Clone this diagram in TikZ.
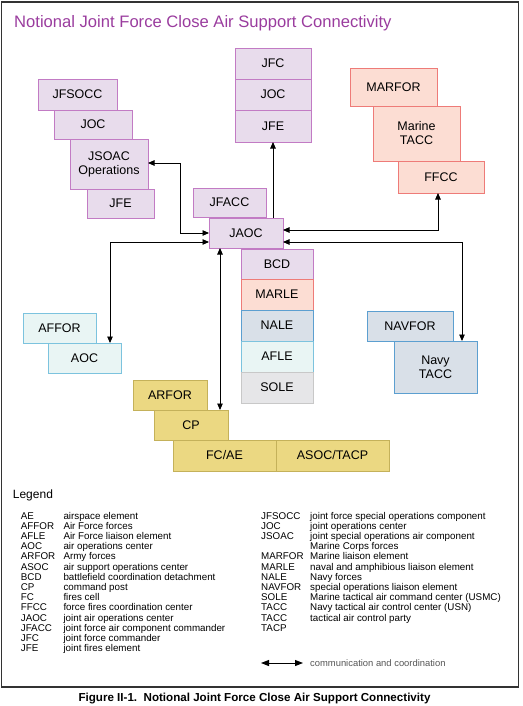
\documentclass[tikz,border=0pt]{standalone}
\usepackage{fontspec}
\setmainfont{Liberation Sans}
\usetikzlibrary{arrows.meta,calc}
\definecolor{pfill}{HTML}{E8DCEC}\definecolor{pline}{HTML}{C27BC4}
\definecolor{sfill}{HTML}{FCDDD3}\definecolor{sline}{HTML}{EE7B78}
\definecolor{cfill}{HTML}{E9F5F4}\definecolor{cline}{HTML}{7CC3DE}
\definecolor{bfill}{HTML}{D9E0E8}\definecolor{bline}{HTML}{5C9FD0}
\definecolor{gfill}{HTML}{E6E6E8}\definecolor{gline}{HTML}{C8C8C8}
\definecolor{yfill}{HTML}{EBD882}\definecolor{yline}{HTML}{C4B15A}
\definecolor{titlecol}{HTML}{9A3C9E}
\definecolor{framecol}{HTML}{333333}
\definecolor{notecol}{HTML}{555555}
\newcommand\bx[7]{\node[box,#6, minimum width={(#4)-(#2)}, minimum height={(#5)-(#3)}] (#1) at ({((#2)+(#4))/2},{((#3)+(#5))/2}) {#7};}
\tikzset{
  box/.style={rectangle, draw, line width=0.8pt, inner sep=0pt, outer sep=0pt, align=center, font=\fontsize{12.5}{14}\selectfont},
  purp/.style={fill=pfill, draw=pline},
  salm/.style={fill=sfill, draw=sline},
  cyan/.style={fill=cfill, draw=cline},
  blgr/.style={fill=bfill, draw=bline},
  gray/.style={fill=gfill, draw=gline},
  yell/.style={fill=yfill, draw=yline},
  conn/.style={line width=0.9pt, black, {Triangle[length=6.5pt,width=5.5pt]}-{Triangle[length=6.5pt,width=5.5pt]}},
  oneway/.style={line width=0.9pt, black, -{Triangle[length=6.5pt,width=5.5pt]}},
  legtxt/.style={anchor=base west, inner sep=0pt, font=\fontsize{9.8}{10}\selectfont}
}
\begin{document}
\begin{tikzpicture}[x=1pt,y=-1pt]
\useasboundingbox (0,0) rectangle (522,706);
\draw[framecol, line width=1.2pt] (1.5,2) rectangle (518.5,687);
\node[anchor=base west, inner sep=0pt, text=titlecol, font=\fontsize{16.6}{18}\selectfont] (title) at (14,28) {Notional Joint Force Close Air Support Connectivity};
% left stack
\bx{JFSOCC}{38}{79}{117}{110}{purp}{JFSOCC}
\bx{JOCl}{54}{110}{132}{139}{purp}{JOC}
\bx{JSOAC}{70}{139}{148}{189}{purp}{JSOAC\\Operations}
\bx{JFEl}{87}{189}{154}{218}{purp}{JFE}
% middle top stack
\bx{JFC}{235}{48}{311}{79}{purp}{JFC}
\bx{JOCm}{235}{79}{311}{110}{purp}{JOC}
\bx{JFEm}{235}{110}{311}{142}{purp}{JFE}
% marine stack
\bx{MARFOR}{350}{68}{437}{106}{salm}{MARFOR}
\bx{MTACC}{373}{106}{460}{161}{salm}{Marine\\TACC}
\bx{FFCC}{398}{161}{484}{193}{salm}{FFCC}
% center
\bx{JFACC}{193}{188}{266}{217}{purp}{JFACC}
\bx{JAOC}{209}{218}{283}{248}{purp}{JAOC}
\bx{BCD}{241}{249}{313}{279}{purp}{BCD}
\bx{MARLE}{241}{279}{313}{310}{salm}{MARLE}
\bx{NALE}{241}{310}{313}{341}{blgr}{NALE}
\bx{AFLE}{241}{341}{313}{372}{cyan}{AFLE}
\bx{SOLE}{241}{372}{313}{403}{gray}{SOLE}
% air force
\bx{AFFOR}{23}{313}{96}{343}{cyan}{AFFOR}
\bx{AOC}{48}{343}{121}{373}{cyan}{AOC}
% army
\bx{ARFOR}{133}{380}{207}{410}{yell}{ARFOR}
\bx{CP}{154}{410}{228}{440}{yell}{CP}
\bx{FCAE}{173}{440}{276}{471}{yell}{FC/AE}
\bx{ASOC}{276}{440}{389}{471}{yell}{ASOC/TACP}
% navy
\bx{NAVFOR}{367}{311}{453}{341}{blgr}{NAVFOR}
\bx{NTACC}{394}{341}{477}{393}{blgr}{Navy\\TACC}
% connectors
\draw[conn] ([yshift=1pt]JSOAC.east) -| ([xshift=-29pt]JAOC.west) -- (JAOC.west);
\draw[conn] ([yshift=-9pt]JAOC.west) -| ([xshift=25.5pt]AOC.north);
\draw[oneway] (JFEm.south |- JAOC.north) -- (JFEm.south);
\draw[conn] ([yshift=3pt]JAOC.east) -| ([xshift=-3pt]FFCC.south);
\draw[conn] ([yshift=-9pt]JAOC.east) -| ([xshift=26.5pt]NTACC.north);
\draw[conn] ([xshift=-26pt]JAOC.south) -- ([xshift=29pt]CP.north);
% legend
\node[anchor=base west, inner sep=0pt, font=\fontsize{12}{14}\selectfont] (legend) at (12.7,498) {Legend};
\foreach \a/\d [count=\i from 0] in {AE/airspace element, AFFOR/Air Force forces, AFLE/Air Force liaison element, AOC/air operations center, ARFOR/Army forces, ASOC/air support operations center, BCD/battlefield coordination detachment, CP/command post, FC/fires cell, FFCC/force fires coordination center, JAOC/joint air operations center, JFACC/joint force air component commander, JFC/joint force commander, JFE/joint fires element}{
  \node[legtxt] (la\i) at (20.7,{519.1+10.2*\i}) {\a};
  \node[legtxt] (ld\i) at (63.3,{519.1+10.2*\i}) {\d};
}
\foreach \a/\d [count=\i from 0] in {JFSOCC/joint force special operations component, JOC/joint operations center, JSOAC/joint special operations air component, {}/Marine Corps forces, MARFOR/Marine liaison element, MARLE/naval and amphibious liaison element, NALE/Navy forces, NAVFOR/special operations liaison element, SOLE/Marine tactical air command center (USMC), TACC/Navy tactical air control center (USN), TACC/tactical air control party, TACP/{}}{
  \node[legtxt] (ra\i) at (261,{519.1+10.2*\i}) {\a};
  \node[legtxt] (rd\i) at (310,{519.1+10.2*\i}) {\d};
}
\coordinate (la) at (261,663);
\coordinate (lb) at (303,663);
\draw[line width=1pt, {Triangle[length=8pt,width=6pt]}-{Triangle[length=8pt,width=6pt]}] (la) -- (lb);
\node[anchor=west, inner sep=0pt, text=notecol, font=\fontsize{9.4}{10}\selectfont] (legnote) at (310,663) {communication and coordination};
\node[anchor=base, inner sep=0pt, font=\bfseries\fontsize{11.6}{13}\selectfont] (caption) at (254.5,701) {Figure II-1.\ \ Notional Joint Force Close Air Support Connectivity};
\end{tikzpicture}
\end{document}
